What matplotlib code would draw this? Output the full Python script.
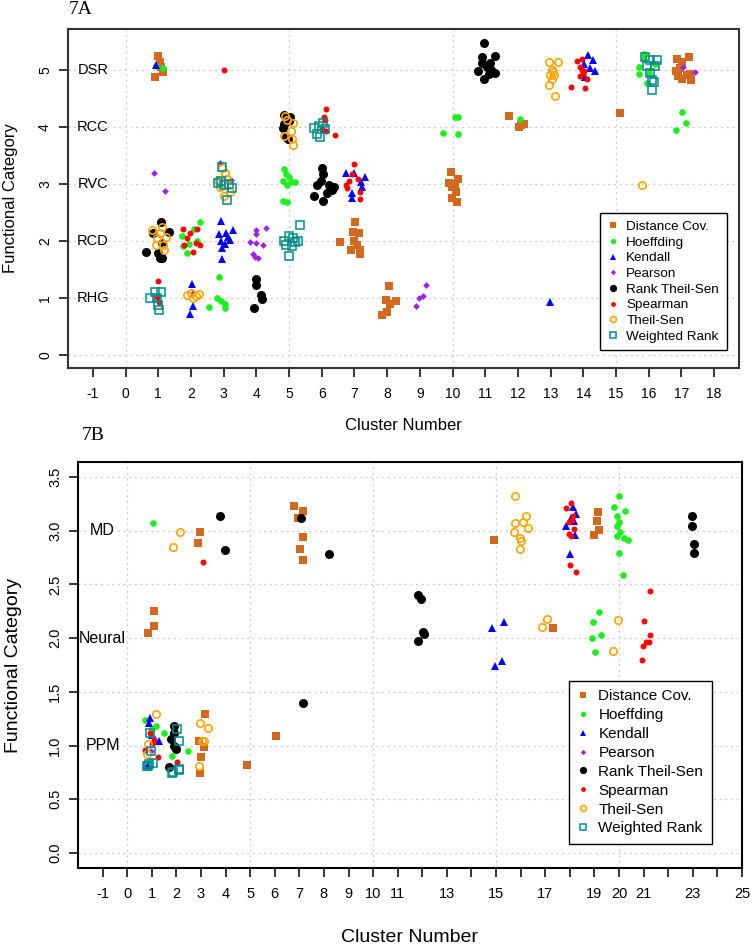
import matplotlib
matplotlib.use("Agg")
import matplotlib.pyplot as plt
from matplotlib.lines import Line2D

plt.rcParams['font.family'] = ['Liberation Sans', 'DejaVu Sans']

# ---- panel 7A data (cluster number, functional category) ----
a_categories = ["RHG", "RCD", "RVC", "RCC", "DSR"]
a_cat_values = [1, 2, 3, 4, 5]

a_dcov_x = [1.0, 1.05, 0.89, 1.14, 1.08, 6.57, 7.03, 6.96, 7.13, 6.99, 7.16, 6.88, 7.16, 7.08,
            8.07, 7.95, 8.26, 8.08, 8.0, 7.83, 9.94, 9.89, 10.16, 9.98, 10.12, 10.14, 9.99, 10.06,
            11.72, 12.03, 12.19, 12.1, 15.12,
            16.85, 17.23, 17.02, 16.82, 16.89, 17.02, 17.16, 17.28, 17.26, 16.97]
a_dcov_y = [5.24, 5.14, 4.88, 4.96, 5.05, 1.99, 2.33, 2.17, 2.14, 2.0, 1.85, 1.85, 1.78, 1.94,
            1.22, 0.97, 0.95, 0.90, 0.76, 0.70, 3.22, 3.03, 3.10, 2.96, 2.86, 2.68, 2.76, 3.0,
            4.20, 4.01, 4.06, 4.04, 4.24,
            5.19, 5.23, 5.15, 4.99, 4.90, 4.85, 4.91, 4.83, 4.94, 5.03]

a_hoef_x = [1.15, 0.93, 2.27, 1.73, 1.76, 1.89, 2.09, 1.95, 2.2, 2.85, 2.79, 2.55, 2.92, 3.04, 3.04,
            4.84, 4.92, 4.82, 5.05, 5.18, 4.95, 4.83, 4.93, 5.0, 10.09, 10.16, 9.71, 10.16, 12.06,
            15.87, 15.69, 15.69, 15.96, 15.85, 16.2, 16.0, 17.02, 17.13, 16.82]
a_hoef_y = [5.03, 5.08, 2.33, 2.09, 1.91, 1.79, 2.21, 1.95, 2.0, 1.37, 1.01, 0.85, 0.95, 0.84, 0.91,
            3.27, 3.18, 3.06, 3.04, 3.04, 2.98, 2.70, 2.68, 3.12, 4.17, 4.18, 3.89, 3.88, 4.14,
            5.29, 5.05, 4.93, 4.77, 5.2, 5.1, 4.95, 4.27, 4.07, 3.95]

a_kend_x = [0.92, 2.04, 2.07, 1.96, 2.93, 3.29, 3.08, 2.91, 2.96, 2.96, 3.2, 2.86, 3.03, 3.12,
            6.73, 7.0, 7.31, 7.19, 6.94, 6.94, 7.24, 12.98, 14.14, 14.3, 14.01, 14.37, 14.06, 14.2]
a_kend_y = [5.09, 1.26, 0.86, 0.72, 2.35, 2.20, 2.14, 2.0, 1.88, 1.69, 2.02, 2.13, 1.96, 2.08,
            3.19, 3.19, 3.13, 3.04, 2.84, 2.75, 2.96, 0.94, 5.26, 5.17, 5.11, 4.98, 4.88, 5.03]

a_pear_x = [0.87, 1.21, 2.88, 3.23, 3.8, 4.0, 4.0, 4.29, 4.21, 4.0, 3.91, 3.97, 4.04,
            8.89, 8.97, 9.09, 9.19, 17.04, 17.41, 2.05]
a_pear_y = [3.19, 2.88, 3.37, 3.07, 1.99, 2.20, 2.12, 2.23, 1.93, 1.97, 1.77, 1.73, 1.70,
            0.87, 1.0, 1.05, 1.23, 5.05, 4.97, 1.10]

a_rts_x = [0.64, 1.07, 1.33, 0.85, 1.0, 1.12, 1.05, 1.1, 4.0, 4.0, 4.13, 4.16, 3.94,
           4.86, 5.03, 4.82, 4.92, 4.97, 4.85, 5.0,
           6.01, 6.04, 5.98, 5.85, 6.22, 6.37, 5.76, 6.04, 6.30, 6.15,
           10.78, 10.96, 11.31, 11.14, 10.89, 11.29, 10.96, 11.04, 11.18, 10.91, 11.11]
a_rts_y = [1.82, 2.33, 2.17, 2.14, 1.79, 1.71, 1.70, 1.97, 1.34, 1.24, 1.06, 0.99, 0.83,
           4.21, 4.18, 3.98, 3.83, 3.80, 4.05, 4.10,
           3.28, 3.18, 3.06, 2.98, 2.98, 2.95, 2.79, 2.70, 2.90, 2.85,
           4.99, 4.85, 4.95, 5.12, 5.23, 5.24, 5.48, 5.06, 5.0, 5.12, 4.93]

a_spear_x = [3.0, 6.12, 6.07, 6.10, 6.42, 6.13, 6.0, 7.0, 6.91, 6.73, 6.83, 7.1, 7.17, 7.16, 6.77,
             1.76, 2.19, 1.89, 2.14, 2.07, 1.79, 2.29, 1.98, 0.99, 0.95, 1.02,
             13.81, 13.96, 13.91, 14.01, 13.91, 14.11, 13.61, 14.06, 13.95, 14.0]
a_spear_y = [5.01, 4.32, 4.18, 4.13, 3.87, 3.93, 3.97, 3.35, 3.18, 2.98, 3.05, 3.09, 2.86, 2.74, 2.93,
             2.22, 2.22, 2.06, 1.97, 1.81, 1.94, 1.94, 2.14, 1.30, 1.03, 0.94,
             5.16, 5.20, 5.06, 4.98, 4.89, 4.84, 4.70, 4.68, 5.0, 4.93]

a_ts_x = [0.82, 1.05, 0.95, 1.15, 1.17, 1.24, 1.12, 0.92, 2.0, 2.14, 2.25, 2.07, 1.89,
          2.96, 2.82, 3.18, 3.02, 2.9, 3.1, 3.05, 5.13, 5.05, 5.10, 5.11, 4.87, 4.95, 4.85,
          12.96, 13.22, 13.04, 12.99, 13.09, 13.04, 12.94, 13.13, 13.06, 15.78]
a_ts_y = [2.20, 2.14, 2.06, 1.94, 1.85, 2.08, 2.25, 1.94, 1.09, 1.05, 1.07, 1.01, 1.06,
          3.28, 3.07, 2.86, 2.80, 2.95, 3.1, 3.2, 4.08, 3.93, 3.80, 3.68, 4.20, 4.12, 3.85,
          5.15, 5.15, 5.00, 4.92, 4.91, 4.84, 4.73, 4.54, 4.97, 2.98]

a_wr_x = [0.76, 1.07, 0.89, 1.02, 1.0, 0.95, 2.96, 2.91, 3.26, 2.82, 3.02, 3.09, 3.15,
          5.33, 4.84, 5.0, 5.13, 5.17, 5.27, 5.0, 4.92, 5.1, 5.76, 6.04, 5.84, 5.96, 6.09, 5.92,
          15.90, 16.05, 16.25, 15.94, 16.19, 16.05, 16.1, 16.17, 16.1]
a_wr_y = [1.01, 1.11, 1.12, 0.80, 0.88, 1.0, 3.31, 3.05, 2.93, 3.03, 2.98, 2.73, 3.0,
          2.28, 2.0, 2.09, 2.06, 1.98, 2.01, 1.75, 1.93, 1.91, 3.98, 4.08, 3.88, 3.83, 3.96, 4.02,
          5.23, 5.17, 5.17, 5.07, 5.07, 4.95, 4.82, 4.79, 4.65]

# ---- panel 7B data ----
b_categories = ["PPM", "Neural", "MD"]
b_cat_values = [1, 2, 3]

b_dcov_x = [2.97, 2.88, 6.79, 7.13, 6.95, 7.13, 7.01, 7.13, 1.10, 1.10, 0.83, 14.91, 17.32,
            19.16, 19.10, 19.18, 18.97, 3.16, 2.90, 3.14, 3.0, 2.96, 6.05, 4.87]
b_dcov_y = [2.99, 2.89, 3.23, 3.18, 3.12, 2.94, 2.83, 2.73, 2.25, 2.11, 2.05, 2.91, 2.09,
            3.17, 3.09, 3.01, 2.96, 1.29, 1.04, 0.99, 0.89, 0.74, 1.09, 0.82]

b_hoef_x = [1.03, 19.17, 18.93, 19.27, 18.90, 19.03,
            20.01, 19.81, 20.26, 19.93, 20.0, 19.93, 20.05, 19.92, 20.22, 20.38, 20.01, 20.15,
            0.73, 1.18, 1.48, 2.46, 1.82, 1.0]
b_hoef_y = [3.07, 2.24, 2.15, 2.03, 2.0, 1.87,
            3.32, 3.22, 3.18, 3.14, 3.08, 3.04, 2.99, 2.95, 2.93, 2.91, 2.79, 2.59,
            1.24, 1.18, 1.12, 0.95, 0.90, 1.15]

b_kend_x = [14.82, 15.32, 14.95, 15.25, 18.11, 18.24, 17.84, 18.15, 18.2, 18.01, 18.05,
            0.93, 0.89, 1.28, 0.85, 1.0]
b_kend_y = [2.09, 2.15, 1.74, 1.79, 3.22, 3.16, 3.04, 3.09, 2.96, 2.78, 3.12,
            1.26, 1.21, 1.04, 0.82, 1.1]

b_pear_x = [1.05, 0.95]
b_pear_y = [1.08, 0.95]

b_rts_x = [3.77, 3.99, 7.05, 8.20, 7.13, 11.82, 11.94, 11.81, 12.08, 12.02,
           22.97, 22.97, 23.03, 23.05, 1.91, 1.91, 1.78, 1.98, 1.72, 1.92]
b_rts_y = [3.14, 2.82, 3.12, 2.78, 1.40, 2.40, 2.36, 1.97, 2.04, 2.06,
           3.14, 3.04, 2.88, 2.79, 1.18, 1.12, 1.06, 0.97, 0.80, 1.0]

b_spear_x = [3.07, 18.04, 17.84, 18.11, 17.97, 18.15, 17.97, 18.04, 18.01, 18.24, 18.1,
             21.27, 21.03, 21.25, 21.10, 21.2, 20.99, 20.95, 0.93, 1.25, 0.73, 1.0, 2.03, 1.1]
b_spear_y = [2.71, 3.26, 3.21, 3.14, 3.08, 3.02, 2.97, 2.95, 2.68, 2.62, 3.1,
             2.44, 2.16, 2.03, 1.96, 1.96, 1.93, 1.80, 1.12, 0.89, 0.96, 1.01, 0.85, 1.05]

b_ts_x = [2.15, 1.88, 15.77, 16.23, 15.76, 16.1, 16.30, 15.73, 15.97, 16.03, 15.97,
          17.09, 16.88, 19.95, 19.77, 1.18, 0.85, 0.79, 2.97, 3.29, 3.13, 2.93, 3.05]
b_ts_y = [2.99, 2.85, 3.32, 3.14, 3.07, 3.08, 3.03, 2.99, 2.93, 2.90, 2.83,
          2.18, 2.10, 2.17, 1.88, 1.29, 1.01, 0.92, 1.21, 1.16, 1.04, 0.81, 1.04]

b_wr_x = [0.87, 0.8, 0.93, 1.05, 0.85, 2.03, 2.11, 1.82, 2.11, 1.85, 2.09, 0.95]
b_wr_y = [0.83, 0.81, 1.12, 0.84, 0.81, 1.15, 1.04, 0.74, 0.77, 0.75, 0.78, 0.95]

METHODS = ["Distance Cov.", "Hoeffding", "Kendall", "Pearson",
           "Rank Theil-Sen", "Spearman", "Theil-Sen", "Weighted Rank"]

STYLE = {
    "Distance Cov.": dict(marker='s', ms=5.2, mfc='#D2691E', mec='#D2691E', mew=0),
    "Hoeffding": dict(marker='o', ms=4.8, mfc='#1EEE1E', mec='#1EEE1E', mew=0),
    "Kendall": dict(marker='^', ms=5.8, mfc='#0000FF', mec='#0000FF', mew=0),
    "Pearson": dict(marker='D', ms=3.4, mfc='#A020F0', mec='#A020F0', mew=0),
    "Rank Theil-Sen": dict(marker='o', ms=6.5, mfc='black', mec='black', mew=0),
    "Spearman": dict(marker='o', ms=4.3, mfc='#FF0000', mec='#FF0000', mew=0),
    "Theil-Sen": dict(marker='o', ms=5.3, mfc='none', mec='#FFA500', mew=1.2),
    "Weighted Rank": dict(marker='s', ms=5.3, mfc='none', mec='#008B8B', mew=1.1),
}

W, H = 754, 948


def px_rect(left, top, right, bottom):
    return [left / W, 1 - bottom / H, (right - left) / W, (bottom - top) / H]


def style_axes(ax, xlim, ylim, xticks, xticklabels, yticks, yticklabels, vgrid, hgrid, fs):
    ax.set_xlim(*xlim)
    ax.set_ylim(*ylim)
    for v in vgrid:
        ax.axvline(v, color='#C8C8C8', ls=(0, (1.5, 3)), lw=0.9, zorder=1)
    for h in hgrid:
        ax.axhline(h, color='#C8C8C8', ls=(0, (1.5, 3)), lw=0.9, zorder=1)
    ax.set_xticks(xticks)
    ax.set_xticklabels(xticklabels, fontsize=fs)
    ax.set_yticks(yticks)
    ax.set_yticklabels(yticklabels, fontsize=fs, rotation=90, va='center')
    ax.tick_params(axis='x', direction='out', length=6.5, width=1.1, pad=7)
    ax.tick_params(axis='y', direction='out', length=6.5, width=1.1, pad=5)
    for s in ax.spines.values():
        s.set_linewidth(1.5)
        s.set_color('#333333')


def draw_points(ax, series):
    for name, (xs, ys) in zip(METHODS, series):
        ax.plot(xs, ys, ls='none', zorder=3, **STYLE[name])


def add_legend(ax, anchor, fs, spacing):
    handles = [Line2D([], [], ls='none', **STYLE[m]) for m in METHODS]
    leg = ax.legend(handles, METHODS, loc='upper left', bbox_to_anchor=anchor,
                    borderaxespad=0, frameon=True, fancybox=False, framealpha=1,
                    edgecolor='black', fontsize=fs, handlelength=0.8, handletextpad=0.6,
                    borderpad=0.55, labelspacing=spacing, markerscale=0.8)
    leg.get_frame().set_linewidth(1.0)
    leg.set_zorder(5)


def main():
    fig = plt.figure(figsize=(W / 100, H / 100), dpi=100)

    # panel 7A
    ax_a = fig.add_axes(px_rect(68, 29, 739, 368))
    a_xt = list(range(-1, 19))
    style_axes(ax_a, (-1.76, 18.76), (-0.22, 5.72), a_xt, [str(v) for v in a_xt],
               [0, 1, 2, 3, 4, 5], ['0', '1', '2', '3', '4', '5'],
               [0, 5, 10, 15], [0, 1, 2, 3, 4, 5], 10)
    draw_points(ax_a, [(a_dcov_x, a_dcov_y), (a_hoef_x, a_hoef_y), (a_kend_x, a_kend_y),
                       (a_pear_x, a_pear_y), (a_rts_x, a_rts_y), (a_spear_x, a_spear_y),
                       (a_ts_x, a_ts_y), (a_wr_x, a_wr_y)])
    for lab, v in zip(a_categories, a_cat_values):
        ax_a.text(-1, v, lab, ha='center', va='center', fontsize=10.5, zorder=4)
    add_legend(ax_a, (0.793, 0.457), 9.7, 0.24)

    fig.text(81 / W, 1 - 10 / H, "7A", family='Liberation Serif', fontsize=14,
             ha='center', va='center')
    fig.text(403 / W, 1 - 426 / H, "Cluster Number", fontsize=12, ha='center', va='center')
    fig.text(11 / W, 1 - 198 / H, "Functional Category", fontsize=12, rotation=90,
             ha='center', va='center')

    # panel 7B
    ax_b = fig.add_axes(px_rect(78, 462, 742, 868))
    b_xt = list(range(-1, 26))
    hidden = {12, 14, 16, 18, 22, 24}
    b_xl = ['' if v in hidden else str(v) for v in b_xt]
    b_yt = [0.0, 0.5, 1.0, 1.5, 2.0, 2.5, 3.0, 3.5]
    style_axes(ax_b, (-2, 25), (-0.14, 3.64), b_xt, b_xl,
               b_yt, ['%.1f' % v for v in b_yt],
               [0, 5, 10, 15, 20], b_yt, 10.5)
    for s in ax_b.spines.values():
        s.set_color('black')
    draw_points(ax_b, [(b_dcov_x, b_dcov_y), (b_hoef_x, b_hoef_y), (b_kend_x, b_kend_y),
                       (b_pear_x, b_pear_y), (b_rts_x, b_rts_y), (b_spear_x, b_spear_y),
                       (b_ts_x, b_ts_y), (b_wr_x, b_wr_y)])
    for lab, v in zip(b_categories, b_cat_values):
        ax_b.text(-1, v, lab, ha='center', va='center', fontsize=11.5, zorder=4)
    add_legend(ax_b, (0.739, 0.461), 11, 0.32)

    fig.text(93 / W, 1 - 435 / H, "7B", family='Liberation Serif', fontsize=14,
             ha='center', va='center')
    fig.text(410 / W, 1 - 937 / H, "Cluster Number", fontsize=14, ha='center', va='center')
    fig.text(14 / W, 1 - 665 / H, "Functional Category", fontsize=14, rotation=90,
             ha='center', va='center')

    fig.savefig("out.png", dpi=100)
    return 0


if __name__ == '__main__':
    main()
